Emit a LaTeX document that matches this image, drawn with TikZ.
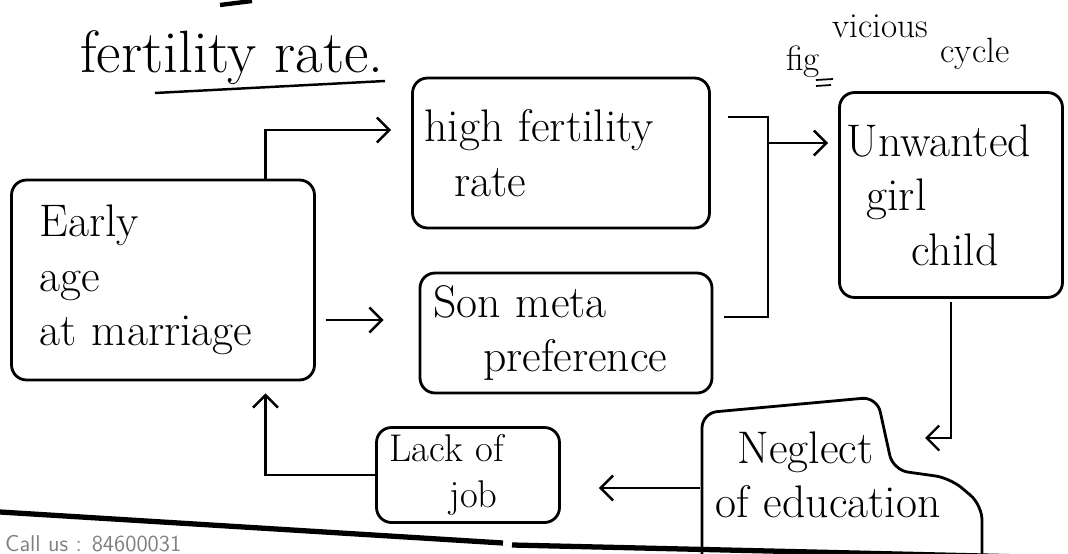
\documentclass[tikz,border=0pt]{standalone}
\usepackage{tikz}
\usetikzlibrary{arrows.meta,positioning,calc}
\newcommand{\hand}{\fontsize{26}{31}\selectfont}

\begin{document}
\begin{tikzpicture}[x=0.02cm,y=-0.02cm,
  box/.style={draw,line width=1.6pt,rounded corners=3mm,inner sep=0pt,align=left,font=\hand},
  arr/.style={line width=1.4pt,-{Straight Barb[length=2.5mm,width=5mm,line width=1.4pt]}}]
\useasboundingbox (0,0) rectangle (1068,554);
\clip (0,0) rectangle (1068,554);
% heading and figure caption
\node[font=\fontsize{34}{36}\selectfont] (title) at (232,58) {fertility rate.};
\draw[line width=1.4pt] (155,93) -- (385,81);
\draw[line width=2.5pt] (220,5) -- (252,1);
\node[font=\fontsize{20}{22}\selectfont] (fig) at (803,62) {fig};
\draw[line width=1pt] (816,80) -- (833,79) (816,86) -- (831,85);
\node[font=\fontsize{20}{22}\selectfont] (vic) at (880,26) {vicious};
\node[font=\fontsize{20}{22}\selectfont] (cyc) at (975,54) {cycle};
% boxes of the cycle
\node[box,minimum width=6.06cm,minimum height=4cm,text width=4.94cm] (early) at (163,280)
  {Early\\age\\at marriage};
\node[box,minimum width=5.94cm,minimum height=3cm,text width=5.46cm] (hfr) at (561,153)
  {high fertility\\\hspace*{0.6cm}rate};
\node[box,minimum width=5.84cm,minimum height=2.4cm,text width=5.32cm] (son) at (566,333)
  {Son meta\\\hspace*{1cm}preference};
\node[box,minimum width=4.46cm,minimum height=4.1cm,text width=4.18cm] (unw) at (951,195)
  {Unwanted\\\hspace*{0.4cm}girl\\\hspace*{1.3cm}child};
\node[box,minimum width=3.66cm,minimum height=1.9cm,text width=3.14cm,
      font=\fontsize{22}{26}\selectfont] (lack) at (468,475)
  {Lack of\\\hspace*{1.2cm}job};
\node[inner sep=0pt,align=left,font=\hand,minimum width=5.64cm,minimum height=3.14cm,
      text width=5.04cm] (neg) at (841,475)
  {\hspace*{0.45cm}Neglect\\of education};
\draw[line width=1.6pt,rounded corners=3mm] (702,556) -- (702,413) -- (877,397) -- (893,470)
  -- (950,478) -- (982,505) -- (982,556);
% connectors
\coordinate (join) at (768,143);
\coordinate (negin) at (925,438);
\draw[arr,shorten >=0.4cm] ($(early.north west)!0.835!(early.north east)$) |- ([yshift=0.46cm]hfr.west);
\draw[arr,shorten <=0.2cm,shorten >=0.7cm] ([yshift=-0.8cm]early.east) -- ([yshift=-0.8cm]early.east -| son.west);
\draw[line width=1.4pt] ([xshift=0.34cm,yshift=0.72cm]hfr.east) -| (join) |- ([xshift=0.22cm,yshift=0.32cm]son.east);
\draw[arr,shorten >=0.2cm] (join) -- (join -| unw.west);
\draw[arr,shorten <=0.06cm] (unw.south) |- (negin);
\draw[arr,shorten >=0.76cm] ([yshift=-0.26cm]neg.west) -- ([yshift=-0.26cm]neg.west -| lack.east);
\draw[arr,shorten >=0.24cm] (lack.west) -| ($(early.south west)!0.835!(early.south east)$);
% page edge and footer
\draw[line width=3pt] (0,512) -- (503,543);
\draw[line width=3pt] (512,545) -- (1068,558);
\node[anchor=west,text=gray,font=\sffamily\fontsize{13}{15}\selectfont] (call) at (-1,544) {Call us : 84600031};
\end{tikzpicture}
\end{document}
